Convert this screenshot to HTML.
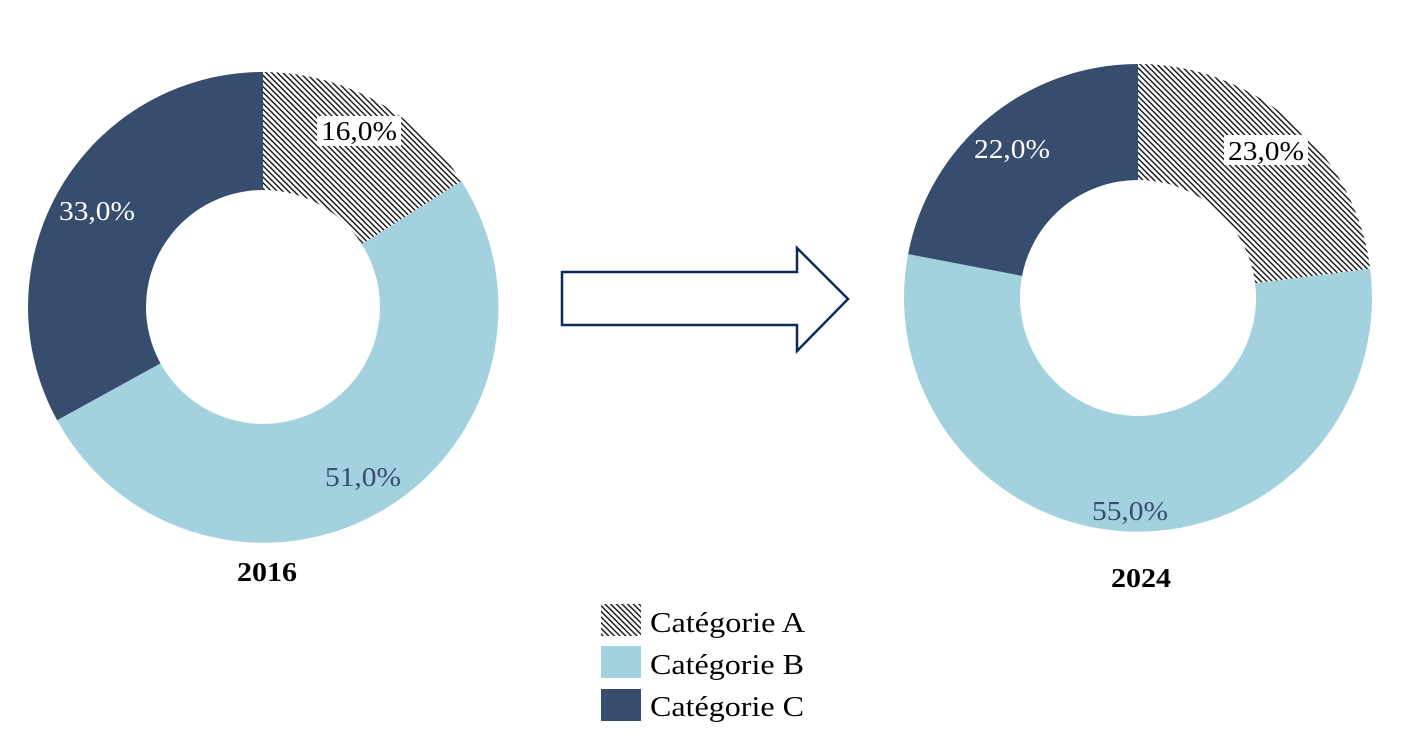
<!DOCTYPE html>
<html><head><style>body{margin:0;background:#fff}svg{display:block}</style></head><body>
<svg width="1401" height="741" viewBox="0 0 1401 741" xmlns="http://www.w3.org/2000/svg" font-family="'Liberation Serif',serif">
<defs><pattern id="h" width="4" height="4" patternUnits="userSpaceOnUse" patternTransform="rotate(-45)"><rect width="4" height="4" fill="#fff"/><rect width="1.4" height="4" fill="#111"/></pattern></defs>
<path d="M263,72 A235,235 0 0 1 461.4,181.1 L361.8,244.3 A117,117 0 0 0 263,190 Z" fill="url(#h)"/>
<path d="M461.4,181.1 A235,235 0 1 1 57.1,420.2 L160.5,363.4 A117,117 0 1 0 361.8,244.3 Z" fill="#a3d2de"/>
<path d="M57.1,420.2 A235,235 0 0 1 263,72 L263,190 A117,117 0 0 0 160.5,363.4 Z" fill="#374d6e"/>
<path d="M1138,64 A234,234 0 0 1 1370.2,268.7 L1255.1,283.2 A118,118 0 0 0 1138,180 Z" fill="url(#h)"/>
<path d="M1370.2,268.7 A234,234 0 1 1 908.1,254.1 L1022.1,275.9 A118,118 0 1 0 1255.1,283.2 Z" fill="#a3d2de"/>
<path d="M908.1,254.1 A234,234 0 0 1 1138,64 L1138,180 A118,118 0 0 0 1022.1,275.9 Z" fill="#374d6e"/>
<path d="M562,272 H797 V248 L848,299 L797,351 V325 H562 Z" fill="#fff" stroke="#0a2a5e" stroke-width="2.5"/>
<g font-size="27">
<rect x="317" y="116" width="84" height="30" fill="#fff"/>
<text x="321" y="140" fill="#000" textLength="76" lengthAdjust="spacingAndGlyphs">16,0%</text>
<text x="59" y="220" fill="#fff" textLength="76" lengthAdjust="spacingAndGlyphs">33,0%</text>
<text x="325" y="486" fill="#374d6e" textLength="76" lengthAdjust="spacingAndGlyphs">51,0%</text>
<text x="974" y="158" fill="#fff" textLength="76" lengthAdjust="spacingAndGlyphs">22,0%</text>
<rect x="1224" y="135" width="84" height="30" fill="#fff"/>
<text x="1228" y="160" fill="#000" textLength="76" lengthAdjust="spacingAndGlyphs">23,0%</text>
<text x="1092" y="520" fill="#374d6e" textLength="76" lengthAdjust="spacingAndGlyphs">55,0%</text>
</g>
<g font-size="27" font-weight="bold">
<text x="237" y="581" textLength="60" lengthAdjust="spacingAndGlyphs">2016</text>
<text x="1111" y="587" textLength="60" lengthAdjust="spacingAndGlyphs">2024</text>
</g>
<rect x="601" y="604" width="40" height="32" fill="url(#h)"/>
<rect x="601" y="646" width="40" height="32" fill="#a3d2de"/>
<rect x="601" y="689" width="40" height="32" fill="#374d6e"/>
<g font-size="29" fill="#000">
<text x="650" y="632" textLength="155" lengthAdjust="spacingAndGlyphs">Catégorie A</text>
<text x="650" y="674" textLength="154" lengthAdjust="spacingAndGlyphs">Catégorie B</text>
<text x="650" y="716" textLength="154" lengthAdjust="spacingAndGlyphs">Catégorie C</text>
</g>
</svg>
</body></html>
